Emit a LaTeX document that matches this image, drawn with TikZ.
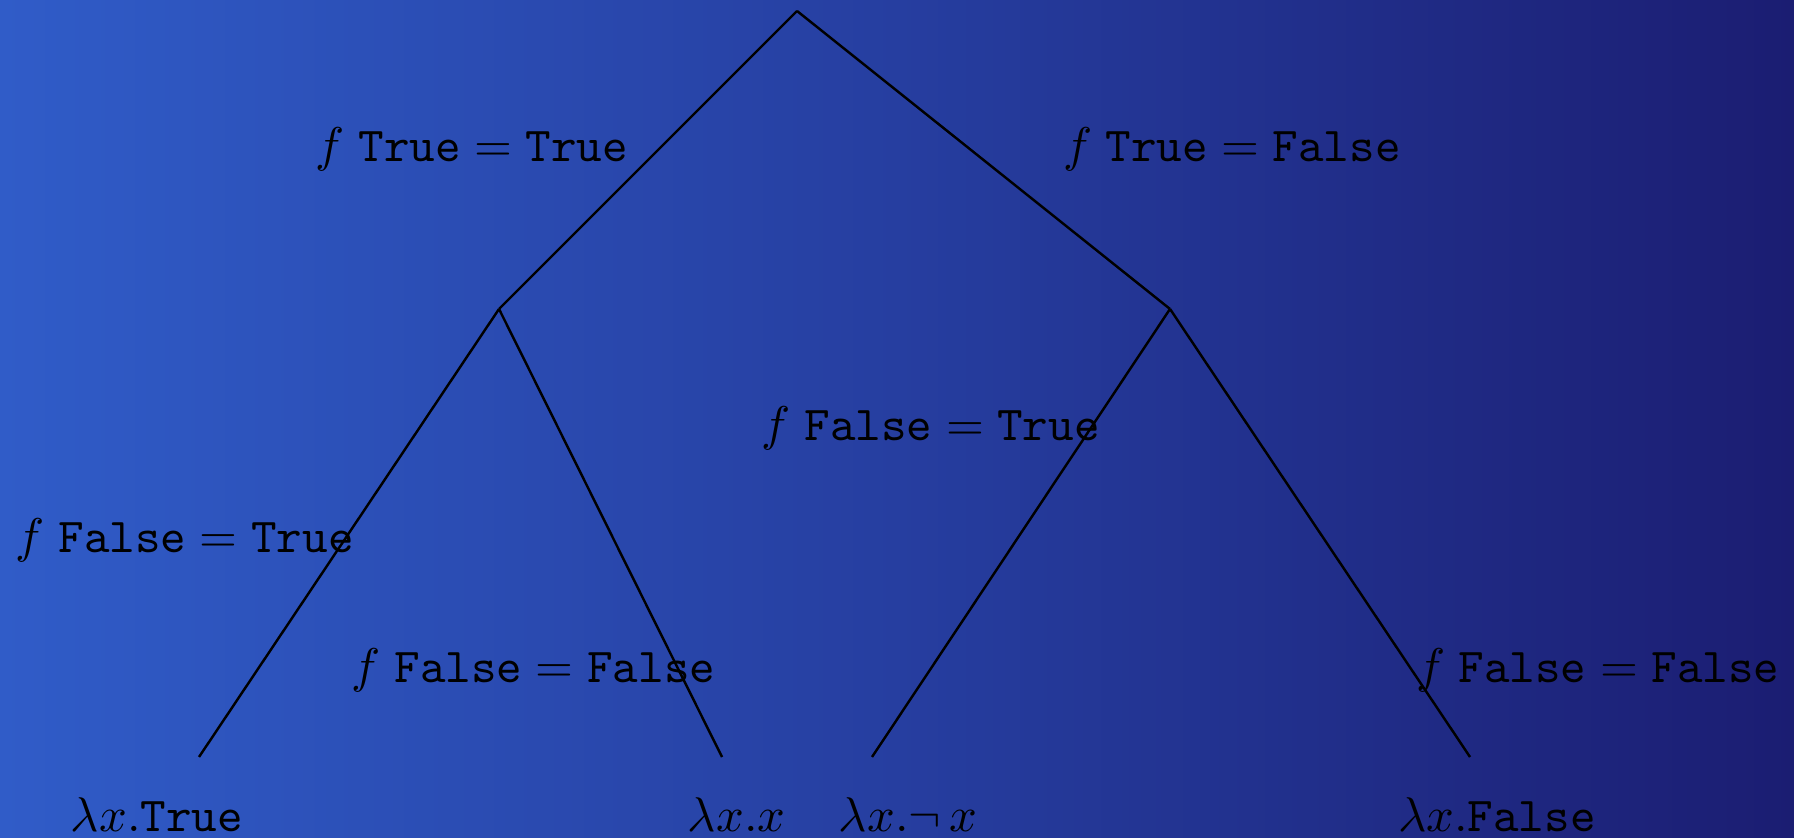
\documentclass[tikz,border=0pt]{standalone}
\usepackage{amssymb}
\definecolor{bgleft}{RGB}{48,92,200}
\definecolor{bgmid}{RGB}{38,62,160}
\definecolor{bgright}{RGB}{27,29,114}
\begin{document}
\begin{tikzpicture}[x=0.2053pt,y=-0.2053pt,
  edge/.style={draw=black,line width=0.5pt},
  lbl/.style={inner sep=0pt,anchor=base west,text=black},
  leaflbl/.style={inner sep=0pt,anchor=base west,text=black}]
\shade[left color=bgleft,right color=bgright,middle color=bgmid] (0,0) rectangle (1794,838);
\useasboundingbox (0,0) rectangle (1794,838);
% tree vertices
\coordinate (top) at (797,11);
\coordinate (l) at (499,309);
\coordinate (r) at (1170,309);
\coordinate (ll) at (199,757);
\coordinate (lr) at (722,757);
\coordinate (rl) at (872,757);
\coordinate (rr) at (1470,757);
% edges
\draw[edge] (top) -- (l);
\draw[edge] (top) -- (r);
\draw[edge] (l) -- (ll);
\draw[edge] (l) -- (lr);
\draw[edge] (r) -- (rl);
\draw[edge] (r) -- (rr);
% edge labels
\node[lbl] (e1) at (315,162) {$f\;\texttt{True} = \texttt{True}$};
\node[lbl] (e2) at (1062,162) {$f\;\texttt{True} = \texttt{False}$};
\node[lbl] (e3) at (15,553) {$f\;\texttt{False} = \texttt{True}$};
\node[lbl] (e4) at (351,683) {$f\;\texttt{False} = \texttt{False}$};
\node[lbl] (e5) at (761,441) {$f\;\texttt{False} = \texttt{True}$};
\node[lbl] (e6) at (1415,683) {$f\;\texttt{False} = \texttt{False}$};
% leaf labels
\node[leaflbl] (n1) at (70,832) {$\lambda x.\texttt{True}$};
\node[leaflbl] (n2) at (687,832) {$\lambda x.x$};
\node[leaflbl] (n3) at (838,832) {$\lambda x.\neg\, x$};
\node[leaflbl] (n4) at (1397,832) {$\lambda x.\texttt{False}$};
\end{tikzpicture}
\end{document}
